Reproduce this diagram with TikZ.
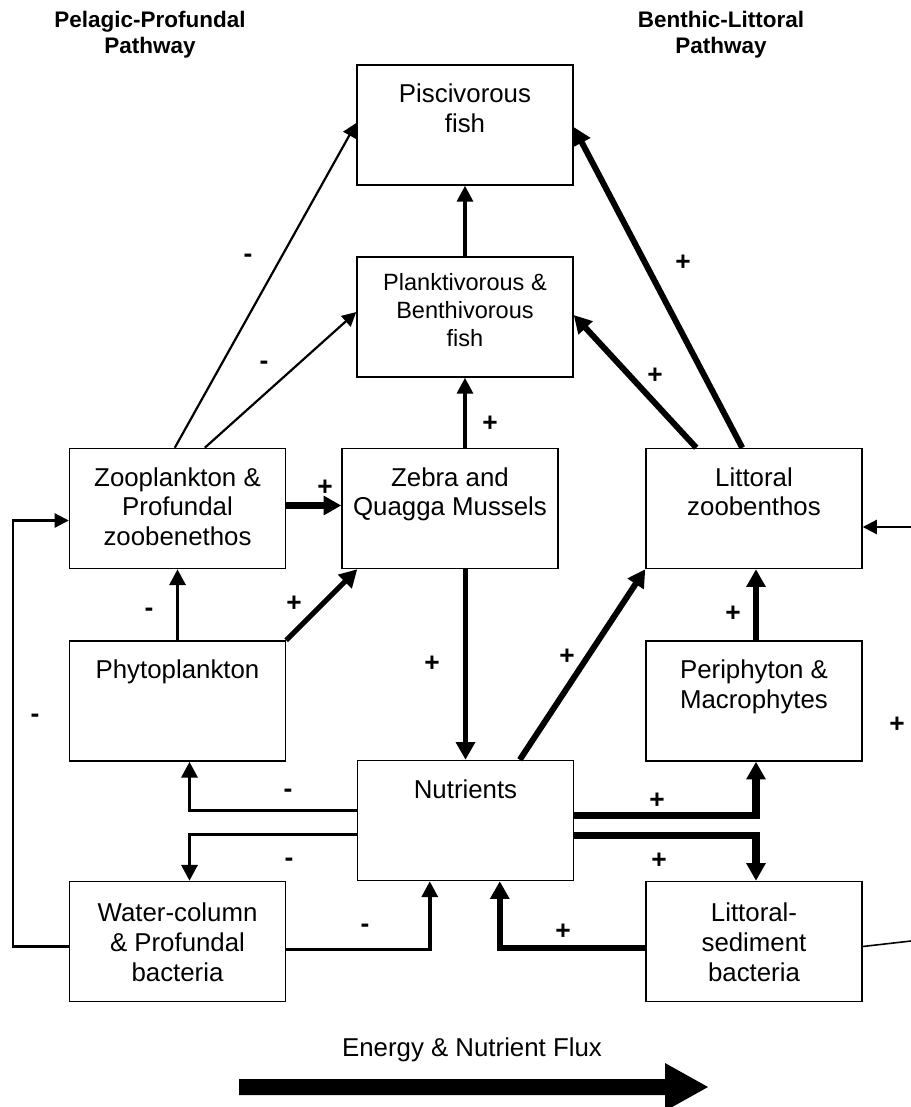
\documentclass[tikz,border=0pt]{standalone}
\usepackage{fontspec}
\setmainfont{Liberation Sans}
\usetikzlibrary{arrows.meta,calc}

% box text: set at the top of the box
\newcommand{\boxlabel}[3][\fontsize{14.7}{17}\selectfont]{\parbox[t][2.3cm][t]{4.2cm}{\centering#1\rule{0pt}{#2}#3}}

\tikzset{
  box/.style={draw, line width=0.85pt, minimum width=4.32cm, minimum height=2.4cm,
    inner xsep=0.06cm, inner ysep=0.05cm},
  lowflux/.style={line width=1.25pt, -{Triangle[length=8pt,width=8pt]}},
  midflux/.style={line width=2pt, -{Triangle[length=9pt,width=9pt]}},
  highflux/.style={line width=3.4pt, -{Triangle[length=10pt,width=10.5pt]}},
  sign/.style={font=\fontsize{15}{17}\selectfont\bfseries},
  head/.style={font=\fontsize{12.8}{14.8}\selectfont\bfseries, align=center}
}

\begin{document}
\begin{tikzpicture}[x=0.02cm, y=-0.02cm]
  \useasboundingbox (0,0) rectangle (911,1107);

  % pathway titles
  \node[head] (pelagic) at (150,35) {Pelagic-Profundal\\Pathway};
  \node[head] (benthic) at (721,35) {Benthic-Littoral\\Pathway};

  % compartments
  \node[box] (pisc) at (465,125) {\boxlabel{0.70cm}{Piscivorous\\fish}};
  \node[box] (plank) at (465,317) {\boxlabel[\fontsize{13.4}{15.9}\selectfont]{0.62cm}{Planktivorous \&\\Benthivorous\\fish}};
  \node[box] (zoo) at (177.5,508.5) {\boxlabel{0.70cm}{Zooplankton \&\\Profundal\\zoobenethos}};
  \node[box] (mussels) at (450,508.5) {\boxlabel{0.70cm}{Zebra and\\Quagga Mussels}};
  \node[box] (litt) at (754,508.5) {\boxlabel{0.70cm}{Littoral\\zoobenthos}};
  \node[box] (phyto) at (177.5,701) {\boxlabel{0.70cm}{Phytoplankton}};
  \node[box] (periph) at (754,701) {\boxlabel{0.70cm}{Periphyton \&\\Macrophytes}};
  \node[box] (nutr) at (465.5,820.5) {\boxlabel{0.70cm}{Nutrients}};
  \node[box] (water) at (177.5,941.5) {\boxlabel{0.75cm}{Water-column\\\& Profundal\\bacteria}};
  \node[box] (lsed) at (754,941.5) {\boxlabel{0.75cm}{Littoral-\\sediment\\bacteria}};

  % free ends on the right
  \coordinate (rightin) at (911,527);
  \coordinate (rightout) at (911,941);

  % upper food web
  \draw[lowflux] ($(zoo.north west)+(106,0)$) -- ($(pisc.west)+(0,-2)$);
  \draw[lowflux] ($(zoo.north west)+(136,0)$) -- ($(plank.west)+(0,-5)$);
  \draw[midflux] (plank.north) -- (pisc.south);
  \draw[midflux] (plank.south |- mussels.north) -- (plank.south);
  \draw[highflux] ($(litt.north west)+(97,0)$) -- ($(pisc.east)+(0,2)$);
  \draw[highflux] ($(litt.north west)+(51,0)$) -- ($(plank.east)+(0,-2)$);
  \draw[highflux, line width=4pt] ($(zoo.east)+(0,-3)$) -- ($(zoo.east -| mussels.west)+(0,-3)$);

  % middle
  \draw[midflux] (phyto.north) -- (zoo.south);
  \draw[highflux, line width=3pt] (phyto.north east) -- ($(mussels.south west)+(16,0)$);
  \draw[highflux] (nutr.north |- mussels.south) -- (nutr.north);
  \draw[highflux] ($(nutr.north west)+(163,0)$) -- (litt.south west);
  \draw[highflux, line width=3pt] ($(periph.north)+(2,0)$) -- ($(litt.south)+(2,0)$);

  % nutrient loop
  \draw[midflux] ($(nutr.west)+(0,-10)$) -| ($(phyto.south)+(12,0)$);
  \draw[midflux] ($(nutr.west)+(0,14)$) -| ($(water.north)+(12,0)$);
  \draw[highflux, line width=4pt] ($(nutr.east)+(0,-5)$) -| ($(periph.south)+(2,0)$);
  \draw[highflux, line width=4pt] ($(nutr.east)+(0,15)$) -| ($(lsed.north)+(2,0)$);
  \draw[midflux] ($(water.east)+(0,8)$) -| ($(nutr.south west)+(73,0)$);
  \draw[highflux] ($(lsed.west)+(0,6)$) -| ($(nutr.south west)+(143,0)$);

  % feedbacks at the sides
  \draw[lowflux] ($(water.west)+(0,5)$) -- ++(-56,0) |- ($(zoo.west)+(0,12)$);
  \draw[lowflux] (rightin) -- (rightin -| litt.east);
  \draw[line width=0.9pt] ($(lsed.east)+(0,5)$) -- (rightout);

  % signs
  \node[sign] (s1) at (248,258) {-};
  \node[sign] (s2) at (264,365) {-};
  \node[sign] (s3) at (490,424) {+};
  \node[sign] (s4) at (683,263) {+};
  \node[sign] (s5) at (655,376) {+};
  \node[sign] (s6) at (325,488) {+};
  \node[sign] (s7) at (149,612) {-};
  \node[sign] (s8) at (294,604) {+};
  \node[sign] (s9) at (432,664) {+};
  \node[sign] (s10) at (567,657) {+};
  \node[sign] (s11) at (733,614) {+};
  \node[sign] (s12) at (897,725) {+};
  \node[sign] (s13) at (35,718) {-};
  \node[sign] (s14) at (288,793) {-};
  \node[sign] (s15) at (289,862) {-};
  \node[sign] (s16) at (657,801) {+};
  \node[sign] (s17) at (659,861) {+};
  \node[sign] (s18) at (365,928) {-};
  \node[sign] (s19) at (563,932) {+};

  % flux arrow
  \node[font=\fontsize{14.7}{17}\selectfont] (flux) at (472,1050) {Energy \& Nutrient Flux};
  \fill (239,1079) -- (665,1079) -- (665,1063) -- (708,1087) -- (665,1111)
    -- (665,1095) -- (239,1095) -- cycle;
\end{tikzpicture}
\end{document}
